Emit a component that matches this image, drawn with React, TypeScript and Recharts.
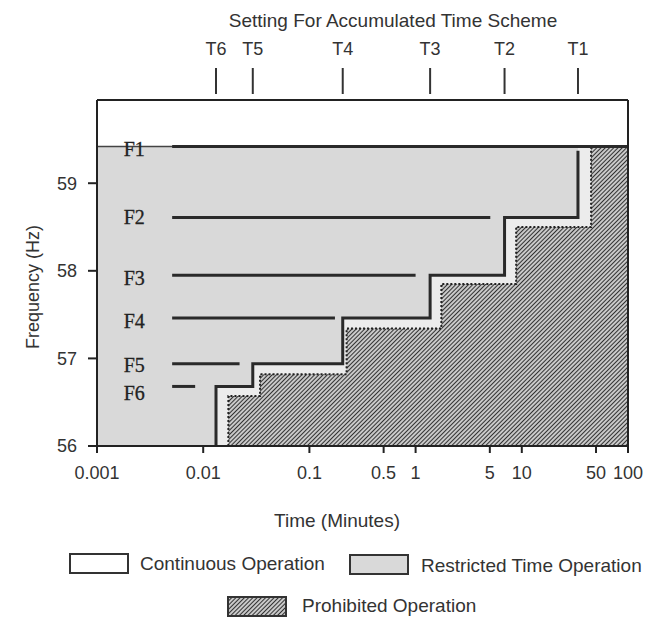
import React from "react";
import { ComposedChart, XAxis, YAxis, Area, Line, Scatter, ReferenceLine } from "recharts";

// frequency bands, lowest first
const levelNames = ["F6", "F5", "F4", "F3", "F2", "F1"];
const levelFreqs = [56.68, 56.94, 57.46, 57.95, 58.61, 59.42];
const levelLabelFreqs = [56.61, 56.93, 57.43, 57.92, 58.61, 59.39];
const levelLineStart = 0.0051;
const levelLineEnds = [0.0084, 0.022, 0.174, 1.0, 5.05, 100];
const labelTime = 0.00224;

// accumulated time settings (minutes)
const settingNames = ["T6", "T5", "T4", "T3", "T2", "T1"];
const settingTimes = [0.0132, 0.0293, 0.206, 1.37, 6.88, 33.8];
const t1LineTop = 59.37;

// prohibited operation boundary
const prohibitedTimes = [0.01726, 0.0343, 0.224, 1.748, 8.85, 44.9];
const prohibitedFreqs = [56.57, 56.82, 57.34, 57.85, 58.5, 59.42];

const xTicks = [0.001, 0.01, 0.05, 0.1, 0.5, 1, 5, 10, 50, 100];
const yTicks = [56, 57, 58, 59];
const xMin = 0.001;
const xMax = 100;
const yMin = 56;
const yMax = 59.95;
const restrictedTop = 59.42;

const font = '"Liberation Sans", Arial, Helvetica, sans-serif';
const ink = "#333";

const restrictedData = [
  { t: xMin, f: restrictedTop },
  { t: xMax, f: restrictedTop },
];

const stepLineData = [
  { t: settingTimes[0], f: yMin },
  ...settingTimes.map((t, i) => ({ t, f: i === 5 ? t1LineTop : levelFreqs[i] })),
];

const gapData = [
  { t: settingTimes[0], f: yMin },
  ...settingTimes.map((t, i) => ({ t, f: levelFreqs[i] })),
  { t: xMax, f: restrictedTop },
];

const prohibitedData = [
  { t: prohibitedTimes[0], f: yMin },
  ...prohibitedTimes.map((t, i) => ({ t, f: prohibitedFreqs[i] })),
  { t: xMax, f: prohibitedFreqs[prohibitedFreqs.length - 1] },
];

const labelData = levelNames.map((name, i) => ({ t: labelTime, f: levelLabelFreqs[i], name }));
const settingData = settingNames.map((name, i) => ({ t: settingTimes[i], f: yMax, name }));

// tick mark + label above the box for each T setting
function SettingMark(props: any) {
  const { cx, cy, payload } = props;
  return (
    <g>
      <line x1={cx} x2={cx} y1={cy - 6} y2={cy - 32} stroke={ink} strokeWidth={2} />
      <text x={cx} y={cy - 45} textAnchor="middle" fontSize={18} fontFamily={font} fill={ink}>
        {payload.name}
      </text>
    </g>
  );
}

function LevelLabel(props: any) {
  const { cx, cy, payload } = props;
  return (
    <text
      x={cx}
      y={cy}
      textAnchor="middle"
      dominantBaseline="central"
      fontSize={20}
      fontFamily='"Liberation Serif", "Times New Roman", serif'
      fill="#222"
      stroke="#222"
      strokeWidth={0.3}
    >
      {payload.name}
    </text>
  );
}

const Hatch = ({ id }: { id: string }) => (
  <pattern id={id} patternUnits="userSpaceOnUse" width={3} height={3} patternTransform="rotate(45)">
    <rect width={3} height={3} fill="#dadada" />
    <line x1={1.5} y1={0} x2={1.5} y2={3} stroke="#333" strokeWidth={1.2} />
  </pattern>
);

const text = (extra: React.CSSProperties): React.CSSProperties => ({
  position: "absolute",
  fontFamily: font,
  fontSize: 19,
  color: ink,
  lineHeight: 1,
  whiteSpace: "nowrap",
  ...extra,
});

const box = (left: number, top: number, fill: string): React.CSSProperties => ({
  position: "absolute",
  left,
  top,
  width: 56,
  height: 17,
  border: "2px solid #333",
  background: fill,
});

export default function App() {
  return (
    <div style={{ position: "absolute", left: 0, top: 0, width: 645, height: 617, background: "#fff" }}>
      <ComposedChart width={645} height={617} margin={{ top: 100, right: 17, bottom: 141, left: 37 }}>
        <defs>
          <Hatch id="hatch" />
        </defs>
        <XAxis
          dataKey="t"
          type="number"
          scale="log"
          domain={[xMin, xMax]}
          ticks={xTicks}
          height={30}
          tickSize={7}
          tickMargin={13}
          tick={{ fill: ink, fontSize: 18, fontFamily: font }}
          tickFormatter={(v) => String(v)}
          axisLine={{ stroke: "#222", strokeWidth: 2 }}
          tickLine={{ stroke: "#222", strokeWidth: 2 }}
        />
        <YAxis
          dataKey="f"
          type="number"
          domain={[yMin, yMax]}
          ticks={yTicks}
          width={60}
          tickSize={9}
          tickMargin={11}
          tick={{ fill: ink, fontSize: 18, fontFamily: font }}
          axisLine={{ stroke: "#222", strokeWidth: 2 }}
          tickLine={{ stroke: "#222", strokeWidth: 2 }}
        />
        <Area
          data={restrictedData}
          dataKey="f"
          type="linear"
          baseValue="dataMin"
          fill="#d9d9d9"
          fillOpacity={1}
          stroke="#444"
          strokeWidth={1.5}
          isAnimationActive={false}
        />
        <Area
          data={gapData}
          dataKey="f"
          type="stepAfter"
          baseValue="dataMin"
          fill="#ececec"
          fillOpacity={1}
          stroke="none"
          isAnimationActive={false}
        />
        <Area
          data={prohibitedData}
          dataKey="f"
          type="stepAfter"
          baseValue="dataMin"
          fill="url(#hatch)"
          fillOpacity={1}
          stroke="#222"
          strokeWidth={2}
          strokeDasharray="2 2"
          isAnimationActive={false}
        />
        <Line
          data={stepLineData}
          dataKey="f"
          type="stepAfter"
          stroke="#2a2a2a"
          strokeWidth={3}
          dot={false}
          activeDot={false}
          isAnimationActive={false}
        />
        {levelNames.map((name, i) => (
          <Line
            key={name}
            data={[
              { t: levelLineStart, f: levelFreqs[i] },
              { t: levelLineEnds[i], f: levelFreqs[i] },
            ]}
            dataKey="f"
            type="linear"
            stroke="#2a2a2a"
            strokeWidth={3}
            dot={false}
            activeDot={false}
            isAnimationActive={false}
          />
        ))}
        <Scatter data={labelData} dataKey="f" shape={<LevelLabel />} isAnimationActive={false} />
        <Scatter data={settingData} dataKey="f" shape={<SettingMark />} isAnimationActive={false} />
        <ReferenceLine y={yMax} stroke="#222" strokeWidth={2} />
        <ReferenceLine x={xMax} stroke="#222" strokeWidth={2} />
      </ComposedChart>

      <div style={text({ left: 393, top: 20, transform: "translate(-50%, -50%)" })}>
        Setting For Accumulated Time Scheme
      </div>
      <div style={text({ left: 337, top: 520, transform: "translate(-50%, -50%)" })}>Time (Minutes)</div>
      <div style={text({ left: 33, top: 287, fontSize: 18, transform: "translate(-50%, -50%) rotate(-90deg)" })}>
        Frequency (Hz)
      </div>

      <div style={box(69, 553, "#fff")} />
      <div style={text({ left: 140, top: 563, transform: "translateY(-50%)" })}>Continuous Operation</div>
      <div style={box(349, 554, "#d9d9d9")} />
      <div style={text({ left: 421, top: 565, transform: "translateY(-50%)" })}>Restricted Time Operation</div>
      <svg style={{ position: "absolute", left: 227, top: 596 }} width={60} height={21}>
        <defs>
          <Hatch id="hatchLegend" />
        </defs>
        <rect x={1} y={1} width={58} height={19} fill="url(#hatchLegend)" stroke="#333" strokeWidth={2} />
      </svg>
      <div style={text({ left: 302, top: 605, transform: "translateY(-50%)" })}>Prohibited Operation</div>
    </div>
  );
}
